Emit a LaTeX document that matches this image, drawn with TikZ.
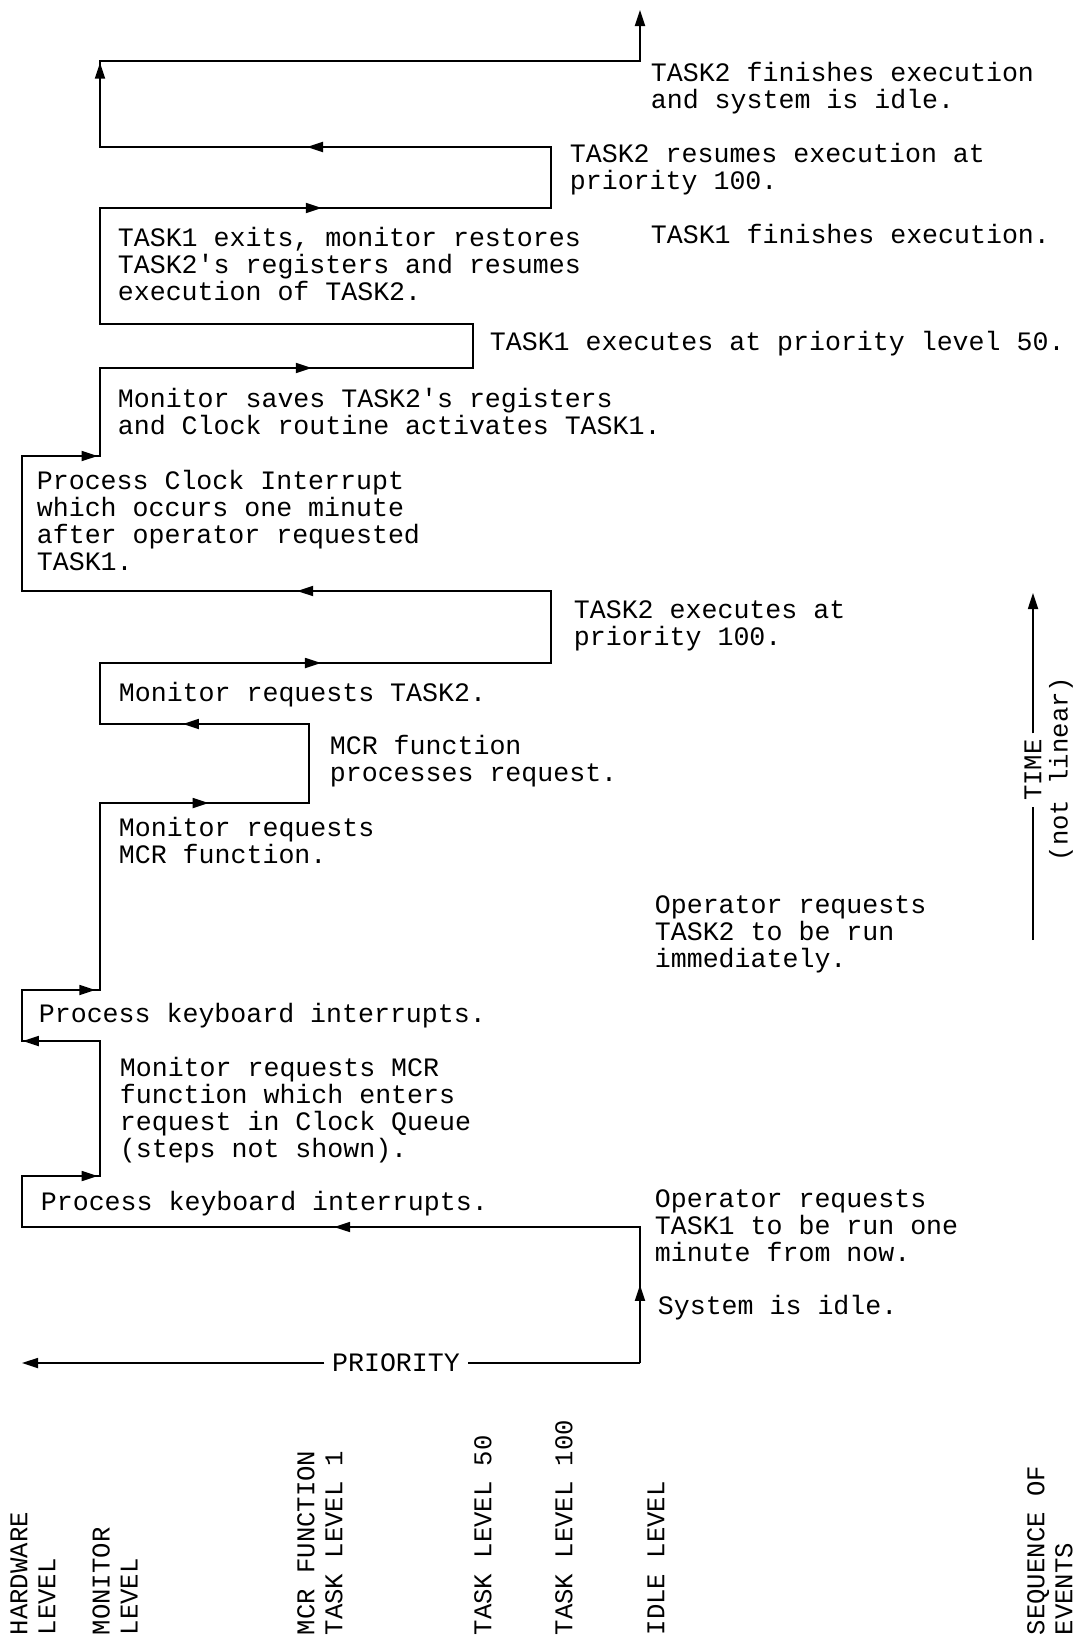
\documentclass[tikz,border=0pt]{standalone}
\usepackage{fontspec}
\setmonofont{Liberation Mono}
\usetikzlibrary{arrows.meta,decorations.markings}
\tikzset{
  txt/.style={font=\ttfamily\fontsize{13.3}{13.5}\selectfont, anchor=base west, inner sep=0pt, align=left},
  lvl/.style={font=\ttfamily\fontsize{12.8}{14}\selectfont, rotate=90, anchor=west, inner sep=0pt, align=left},
  tipat/.style={postaction={decorate}, decoration={markings, mark=at position #1 with {\arrow{>}}}}
}
\begin{document}
\begin{tikzpicture}[x=0.5pt, y=-0.5pt, line width=0.9pt, >={Triangle[length=8pt,width=5pt]}]
\useasboundingbox (0,0) rectangle (1084,1639);

\coordinate (id0) at (640,1363);
\coordinate (hw0) at (22,1363);
\coordinate (id1) at (640,1227);
\coordinate (hw1) at (22,1227);
\coordinate (hw2) at (22,1176);
\coordinate (mo2) at (100,1176);
\coordinate (mo3) at (100,1041);
\coordinate (hw3) at (22,1041);
\coordinate (hw4) at (22,990);
\coordinate (mo4) at (100,990);
\coordinate (mo5) at (100,803);
\coordinate (mc5) at (309,803);
\coordinate (mc6) at (309,724);
\coordinate (mo6) at (100,724);
\coordinate (mo7) at (100,663);
\coordinate (tb7) at (551,663);
\coordinate (tb8) at (551,591);
\coordinate (hw8) at (22,591);
\coordinate (hw9) at (22,456);
\coordinate (mo9) at (100,456);
\coordinate (mo10) at (100,368);
\coordinate (ta10) at (473,368);
\coordinate (ta11) at (473,324);
\coordinate (mo11) at (100,324);
\coordinate (mo12) at (100,208);
\coordinate (tb12) at (551,208);
\coordinate (tb13) at (551,147);
\coordinate (mo13) at (100,147);
\coordinate (mo14) at (100,61);
\coordinate (id14) at (640,61);
\coordinate (id15) at (640,10);

\draw [->] (id0) -- (id1) -- (hw1) -- (hw2) -- (mo2) -- (mo3) -- (hw3) -- (hw4) -- (mo4)
  -- (mo5) -- (mc5) -- (mc6) -- (mo6) -- (mo7) -- (tb7) -- (tb8) -- (hw8) -- (hw9) -- (mo9)
  -- (mo10) -- (ta10) -- (ta11) -- (mo11) -- (mo12) -- (tb12) -- (tb13) -- (mo13) -- (mo14)
  -- (id14) -- (id15);

\path [tipat=.574] (id0) -- (id1);
\path [tipat=.495] (id1) -- (hw1);
\path [tipat=.97] (hw2) -- (mo2);
\path [tipat=.99] (mo3) -- (hw3);
\path [tipat=.94] (hw4) -- (mo4);
\path [tipat=.52] (mo5) -- (mc5);
\path [tipat=.603] (mc6) -- (mo6);
\path [tipat=.49] (mo7) -- (tb7);
\path [tipat=.48] (tb8) -- (hw8);
\path [tipat=.97] (hw9) -- (mo9);
\path [tipat=.568] (mo10) -- (ta10);
\path [tipat=.492] (mo12) -- (tb12);
\path [tipat=.541] (tb13) -- (mo13);
\path [tipat=.98] (mo13) -- (mo14);

\node [txt] (prio) at (396,1363) [anchor=center, inner xsep=3.5pt] {PRIORITY};
\draw (id0) -- (prio);
\draw [->] (prio) -- (hw0);

\node [lvl] (time) at (1033,770) [anchor=center, fill=white, inner xsep=2.5pt] {TIME};
\coordinate (tlo) at (1033,940);
\coordinate (thi) at (1033,593);
\draw (tlo) -- (time);
\draw [->] (time) -- (thi);
\node [lvl] (nl) at (1061,769) [anchor=center] {(not linear)};

\node [txt] (fin2) at (650,108) {TASK2 finishes execution\\and system is idle.};
\node [txt] (res2) at (569,189) {TASK2 resumes execution at\\priority 100.};
\node [txt] (fin1) at (650,243) {TASK1 finishes execution.};
\node [txt] (exit1) at (117,300) {TASK1 exits, monitor restores\\TASK2's registers and resumes\\execution of TASK2.};
\node [txt] (run1) at (489,350) {TASK1 executes at priority level 50.};
\node [txt] (save2) at (117,434) {Monitor saves TASK2's registers\\and Clock routine activates TASK1.};
\node [txt] (clk) at (36,570) {Process Clock Interrupt\\which occurs one minute\\after operator requested\\TASK1.};
\node [txt] (run2) at (573,645) {TASK2 executes at\\priority 100.};
\node [txt] (req2) at (118,701) {Monitor requests TASK2.};
\node [txt] (mcr) at (329,781) {MCR function\\processes request.};
\node [txt] (reqm) at (118,863) {Monitor requests\\MCR function.};
\node [txt] (op2) at (654,967) {Operator requests\\TASK2 to be run\\immediately.};
\node [txt] (kb2) at (38,1022) {Process keyboard interrupts.};
\node [txt] (reqc) at (119,1157) {Monitor requests MCR\\function which enters\\request in Clock Queue\\(steps not shown).};
\node [txt] (kb1) at (40,1210) {Process keyboard interrupts.};
\node [txt] (op1) at (654,1261) {Operator requests\\TASK1 to be run one\\minute from now.};
\node [txt] (idle) at (657,1314) {System is idle.};

\node [lvl] (hwl) at (33,1636) {HARDWARE\\LEVEL};
\node [lvl] (mol) at (115,1636) {MONITOR\\LEVEL};
\node [lvl] (mcl) at (320,1636) {MCR FUNCTION\\TASK LEVEL 1};
\node [lvl] (t50) at (483,1636) {TASK LEVEL 50};
\node [lvl] (t100) at (564,1636) {TASK LEVEL 100};
\node [lvl] (idl) at (656,1636) {IDLE LEVEL};
\node [lvl] (seq) at (1050,1636) {SEQUENCE OF\\EVENTS};
\end{tikzpicture}
\end{document}
